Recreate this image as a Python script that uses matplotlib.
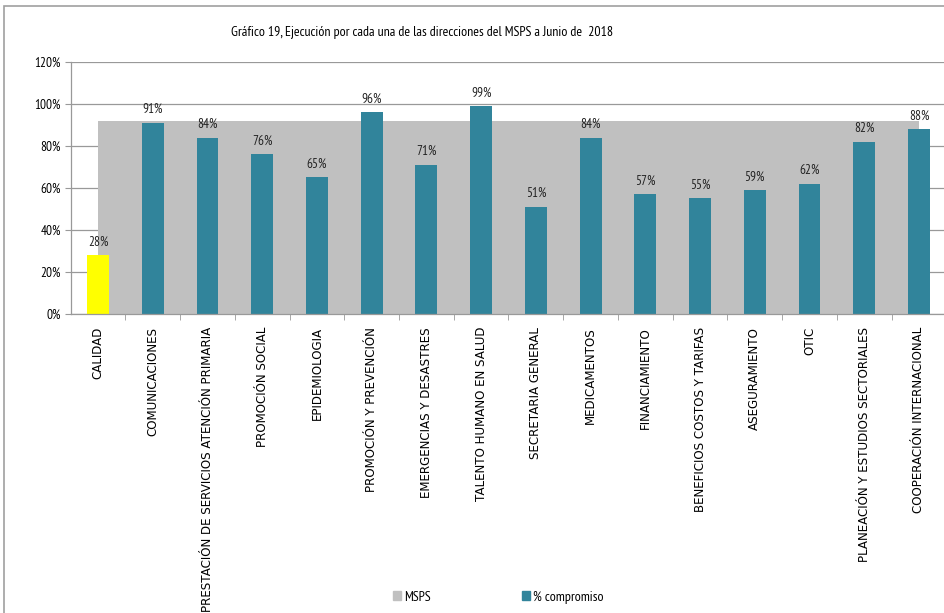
import os
import numpy as np
import matplotlib
matplotlib.use("Agg")
import matplotlib.pyplot as plt
from matplotlib.patches import Rectangle
from matplotlib.ticker import PercentFormatter, FixedLocator, NullFormatter
from matplotlib.font_manager import FontProperties
from matplotlib.transforms import blended_transform_factory

# Data
direcciones = ["CALIDAD", "COMUNICACIONES",
               "PRESTACIÓN DE SERVICIOS ATENCIÓN PRIMARIA", "PROMOCIÓN SOCIAL",
               "EPIDEMIOLOGIA", "PROMOCIÓN Y PREVENCIÓN", "EMERGENCIAS Y DESASTRES",
               "TALENTO HUMANO EN SALUD", "SECRETARIA GENERAL", "MEDICAMENTOS",
               "FINANCIAMIENTO", "BENEFICIOS COSTOS Y TARIFAS", "ASEGURAMIENTO",
               "OTIC", "PLANEACIÓN Y ESTUDIOS SECTORIALES", "COOPERACIÓN INTERNACIONAL"]
compromiso = [28, 91, 84, 76, 65, 96, 71, 99, 51, 84, 57, 55, 59, 62, 82, 88]
msps = [92] * 16

TEAL = "#31849B"
GRAY = "#C0C0C0"
YELLOW = "#FFFF00"
plt.rcParams['font.family'] = ["PT Sans Narrow", "DejaVu Sans"]
# bundled (non-condensed) DejaVu Sans for the category labels
dejavu = FontProperties(fname=os.path.join(matplotlib.get_data_path(), "fonts", "ttf", "DejaVuSans.ttf"),
                        size=8.6)

fig = plt.figure(figsize=(9.44, 6.13), dpi=100)
ax = fig.add_axes([0.0748, 0.4878, 0.9277, 0.4111])

x = np.arange(len(direcciones))

# MSPS area
ax.fill_between(x, 0, msps, color=GRAY, zorder=1, linewidth=0)

# % compromiso bars
colors = [YELLOW] + [TEAL] * (len(x) - 1)
ax.bar(x, compromiso, width=0.4, color=colors, zorder=2)
for xi, v in zip(x, compromiso):
    ax.text(xi, v + 3.2, f"{v}%", ha="center", va="bottom", fontsize=9.5,
            color="#222222")

ax.set_xlim(-0.5, len(x) - 0.5)
ax.set_ylim(0, 120)
ax.yaxis.set_major_locator(FixedLocator(np.arange(0, 121, 20)))
ax.yaxis.set_major_formatter(PercentFormatter(decimals=0))
ax.grid(axis="y", color="#999999", linewidth=0.9, zorder=0)
ax.set_axisbelow(True)

# category labels drawn as text below the axis
ax.set_xticks(x)
ax.xaxis.set_major_formatter(NullFormatter())
trans = blended_transform_factory(ax.transData, ax.transAxes)
for xi, name in zip(x, direcciones):
    ax.text(xi, -13 / 252, name, rotation=90, ha="center", va="top",
            fontproperties=dejavu, transform=trans, clip_on=False)

ax.xaxis.set_minor_locator(FixedLocator(np.arange(0.5, len(x), 1.0)))
ax.tick_params(axis="x", which="major", length=0)
ax.tick_params(axis="x", which="minor", length=4, color="#999999")
ax.tick_params(axis="y", length=4, color="#999999", labelsize=9.5, pad=3)

for s in ["top", "right"]:
    ax.spines[s].set_visible(False)
for s in ["left", "bottom"]:
    ax.spines[s].set_color("#999999")
    ax.spines[s].set_linewidth(0.9)

fig.text(0.447, 0.947, "Gráfico 19, Ejecución por cada una de las direcciones del MSPS a Junio de  2018",
         ha="center", va="center", fontsize=10)

# Legend
fig.legend(handles=[Rectangle((0, 0), 1, 1, color=GRAY),
                    Rectangle((0, 0), 1, 1, color=TEAL)],
           labels=["MSPS", "% compromiso"], loc="center left",
           bbox_to_anchor=(0.403, 0.026), ncol=2, frameon=False,
           handlelength=0.55, handleheight=0.6, handletextpad=0.25,
           columnspacing=6.6, prop={"size": 10})

# outer chart frame
fig.patches.append(Rectangle((0.0045, -0.01), 1.1, 1.0, transform=fig.transFigure,
                             fill=False, edgecolor="#A0A0A0", linewidth=1.2))

fig.savefig("out.png", dpi=100)
